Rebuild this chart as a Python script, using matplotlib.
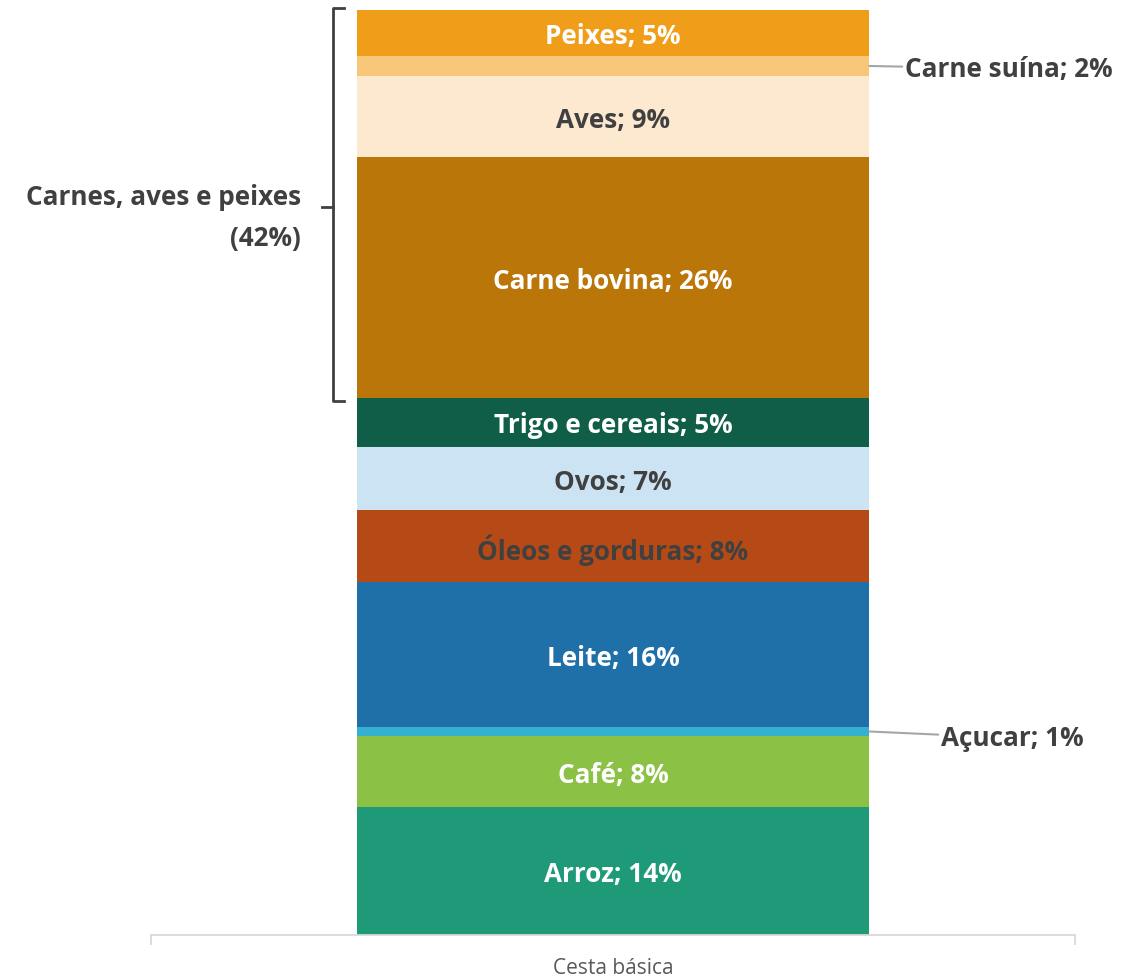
import matplotlib
matplotlib.use("Agg")
import matplotlib.pyplot as plt

plt.rcParams['font.family'] = ['Open Sans', 'DejaVu Sans']

# segmentos de baixo para cima (% da cesta)
itens = ["Arroz", "Café", "Açucar", "Leite", "Óleos e gorduras", "Ovos",
         "Trigo e cereais", "Carne bovina", "Aves", "Carne suína", "Peixes"]
valores = [13.8, 7.7, 1.0, 15.7, 7.7, 6.9, 5.3, 26.0, 8.8, 2.1, 5.0]
cores = ["#1E9A78", "#8BC145", "#35B0D0", "#1F6FA9", "#B54A17", "#CCE3F4",
         "#115E48", "#BA7608", "#FCE9D0", "#F7C679", "#F09E1A"]
cor_texto = ["white", "white", None, "white", "#404040", "#404040",
             "white", "white", "#404040", None, "white"]
categoria = "Cesta básica"
grupo_label = "Carnes, aves e peixes\n(42%)"
grupo_itens = ["Carne bovina", "Aves", "Carne suína", "Peixes"]

fig = plt.figure(figsize=(11.42, 9.79), dpi=100)
ax = fig.add_axes([151/1142, 43/979, 924/1142, 925/979])

escuro = "#404040"
cinza = "#A6A6A6"
fs = 18.8
dy = -0.3  # leve ajuste vertical dos rótulos
larg = 0.555
base = 0
bases = []
for v, c in zip(valores, cores):
    ax.bar(0, v, width=larg, bottom=base, color=c, linewidth=0)
    bases.append(base)
    base += v

for nome, v, b, tc in zip(itens, valores, bases, cor_texto):
    txt = f"{nome}; {round(v)}%"
    meio = b + v / 2
    if tc is not None:
        ax.text(0, meio + dy, txt, ha="center", va="center", color=tc,
                fontsize=fs, fontweight="bold")

# rótulos externos com linha de chamada
i = itens.index("Carne suína")
ax.annotate(f"Carne suína; {round(valores[i])}%", xy=(larg/2, bases[i] + valores[i]/2),
            xytext=(0.316, bases[i] + valores[i]/2 + dy), ha="left", va="center",
            color=escuro, fontsize=fs, fontweight="bold",
            arrowprops=dict(arrowstyle="-", color=cinza, lw=1.5, shrinkA=0, shrinkB=0))
i = itens.index("Açucar")
ax.annotate(f"Açucar; {round(valores[i])}%", xy=(larg/2, bases[i] + valores[i]/2),
            xytext=(0.355, bases[i] + valores[i]/2 - 0.7), ha="left", va="center",
            color=escuro, fontsize=fs, fontweight="bold",
            arrowprops=dict(arrowstyle="-", color=cinza, lw=1.5, shrinkA=0, shrinkB=0))

# chave do grupo das carnes
lo = bases[itens.index(grupo_itens[0])] - 0.4
hi = base + 0.2
xv, xe, xm = -0.303, -0.291, -0.315
ymid = 78.7
ax.plot([xe, xv, xv, xe], [hi, hi, lo, lo], color=escuro, lw=2, clip_on=False,
        solid_joinstyle="round")
ax.plot([xv, xm], [ymid, ymid], color=escuro, lw=2, clip_on=False)
ax.text(-0.338, ymid + 2.6, grupo_label, ha="right", va="top", color=escuro,
        fontsize=fs, fontweight="bold", linespacing=1.68)

ax.set_xlim(-0.5, 0.5)
ax.set_ylim(0, 100)
for s in ["top", "right", "left"]:
    ax.spines[s].set_visible(False)
ax.spines["bottom"].set_color("#D9D9D9")
ax.spines["bottom"].set_linewidth(1.3)
ax.set_yticks([])
ax.set_xticks([0])
ax.set_xticklabels([categoria], color="#595959", fontsize=15)
ax.tick_params(axis="x", which="major", length=0, pad=16)
ax.set_xticks([-0.5, 0.5], minor=True)
ax.tick_params(axis="x", which="minor", length=7, color="#D9D9D9", width=1.3)

fig.savefig("out.png", dpi=100)
